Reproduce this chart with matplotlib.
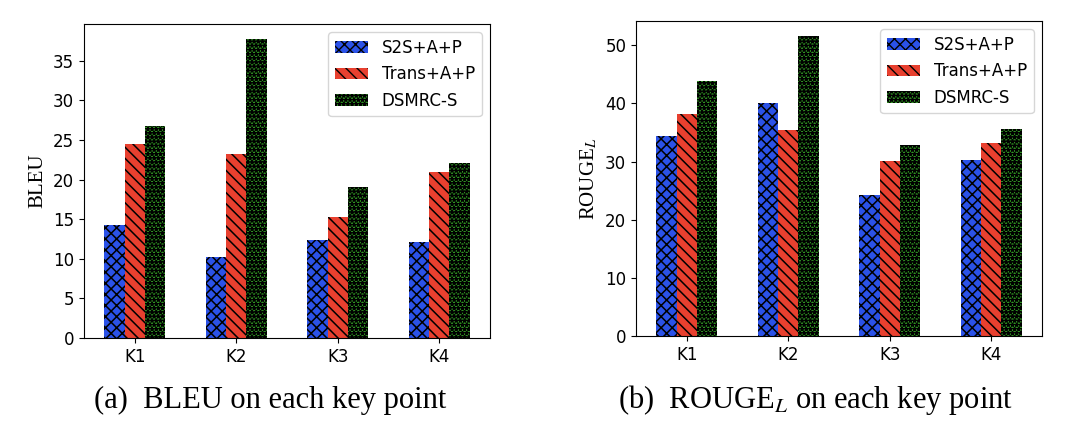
import numpy as np
import matplotlib
matplotlib.use("Agg")
from matplotlib import pyplot as plt

keys = ["K1", "K2", "K3", "K4"]
models = ["S2S+A+P", "Trans+A+P", "DSMRC-S"]

bleu_s2s = [14.25, 10.2, 12.4, 12.15]
bleu_trans = [24.5, 23.25, 15.25, 20.95]
bleu_dsmrc = [26.8, 37.75, 19.1, 22.15]

rouge_s2s = [34.4, 40.1, 24.2, 30.2]
rouge_trans = [38.2, 35.4, 30.1, 33.2]
rouge_dsmrc = [43.8, 51.6, 32.8, 35.6]

colors = ["#2b52e8", "#e8402f", "#2f9322"]
hatches = ["xxx", "\\\\\\", "****"]
hatch_lw = [1.1, 1.1, 1.0]

plt.rcParams["mathtext.fontset"] = "stix"

fig = plt.figure(figsize=(10.8, 4.33), dpi=100)
ax1 = fig.add_axes([0.0778, 0.2194, 0.3759, 0.7252])
ax2 = fig.add_axes([0.5889, 0.2240, 0.3759, 0.7275])

x = np.arange(len(keys))
w = 0.2


def draw(ax, series, ylabel):
    for i, vals in enumerate(series):
        with plt.rc_context({"hatch.linewidth": hatch_lw[i]}):
            ax.bar(x + (i - 1) * w, vals, w, color=colors[i], hatch=hatches[i],
                   label=models[i])
    ax.set_xticks(x)
    ax.set_xticklabels(keys)
    ax.set_xlim(-0.5, 3.5)
    ax.tick_params(labelsize=12)
    ax.set_ylabel(ylabel, fontsize=15, family="Liberation Serif")
    ax.legend(loc="upper right", fontsize=12)


draw(ax1, [bleu_s2s, bleu_trans, bleu_dsmrc], "BLEU")
draw(ax2, [rouge_s2s, rouge_trans, rouge_dsmrc], r"ROUGE$_L$")

fig.text(0.25, 0.076, "(a)  BLEU on each key point", ha="center", va="center",
         fontsize=22, family="Liberation Serif")
fig.text(0.755, 0.076, r"(b)  ROUGE$_L$ on each key point", ha="center", va="center",
         fontsize=22, family="Liberation Serif")

fig.savefig("out.png", dpi=100)
